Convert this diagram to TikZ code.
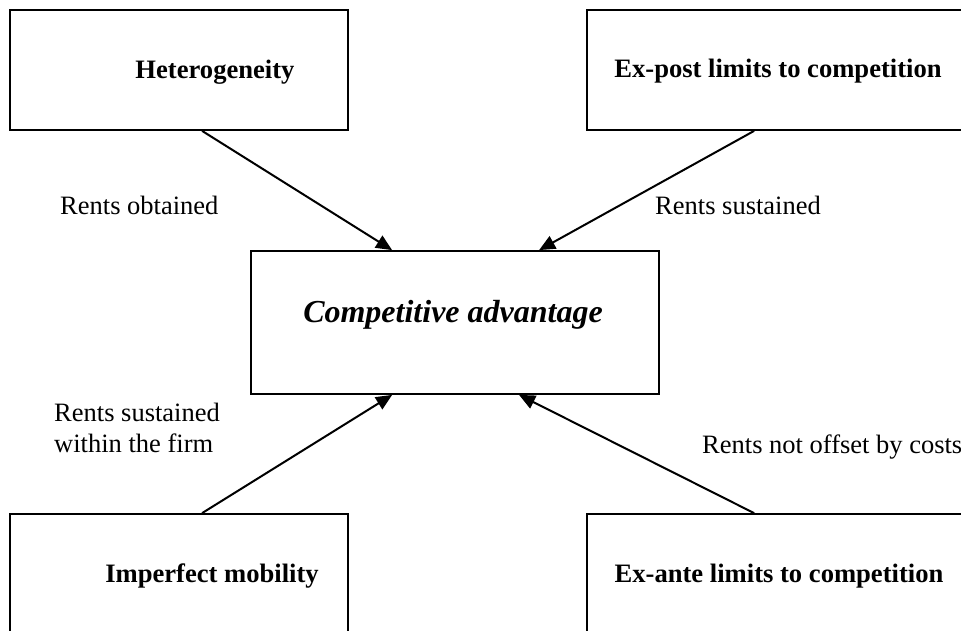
\documentclass[tikz,border=0pt]{standalone}
\usepackage{fontspec}
\setmainfont{Liberation Serif}
\usetikzlibrary{arrows.meta}
\begin{document}
\begin{tikzpicture}[x=1pt,y=-1pt,
  box/.style={draw,line width=1.8pt,rectangle,inner sep=0pt},
  head/.style={font=\fontsize{26.6}{30}\selectfont\bfseries,anchor=base,inner sep=0pt},
  core/.style={font=\fontsize{32}{36}\selectfont\itshape\bfseries,anchor=base,inner sep=0pt},
  note/.style={font=\fontsize{26.5}{31}\selectfont,anchor=base west,inner sep=0pt,align=left},
  link/.style={line width=2pt,-{Triangle[length=16pt,width=14pt]}}]
\useasboundingbox (0,0) rectangle (961,630);
\clip (0,0) rectangle (961,630);
% boxes
\node[box,minimum width=338pt,minimum height=120pt] (tl) at (179,70) {};
\node[box,minimum width=388pt,minimum height=120pt] (tr) at (781,70) {};
\node[box,minimum width=408pt,minimum height=143pt] (ca) at (455,322.5) {};
\node[box,minimum width=338pt,minimum height=120pt] (bl) at (179,574) {};
\node[box,minimum width=388pt,minimum height=120pt] (br) at (781,574) {};
% box texts
\node[head] (tlt) at (215,78) {Heterogeneity};
\node[head] (trt) at (778,77) {Ex-post limits to competition};
\node[core] (cat) at (453,322) {Competitive advantage};
\node[head] (blt) at (212,582) {Imperfect mobility};
\node[head] (brt) at (779,582) {Ex-ante limits to competition};
% connector labels
\node[note] (l1) at (60,214) {Rents obtained};
\node[note] (l2) at (655,214) {Rents sustained};
\node[note] (l3) at (54,452) {Rents sustained\\within the firm};
\node[note] (l4) at (702,453) {Rents not offset by costs};
% connectors
\draw[link] ([xshift=193pt]tl.south west) -- ([xshift=142pt]ca.north west);
\draw[link] ([xshift=168pt]tr.south west) -- ([xshift=289pt]ca.north west);
\draw[link] ([xshift=193pt]bl.north west) -- ([xshift=142pt]ca.south west);
\draw[link] ([xshift=168pt]br.north west) -- ([xshift=269pt]ca.south west);
\end{tikzpicture}
\end{document}
